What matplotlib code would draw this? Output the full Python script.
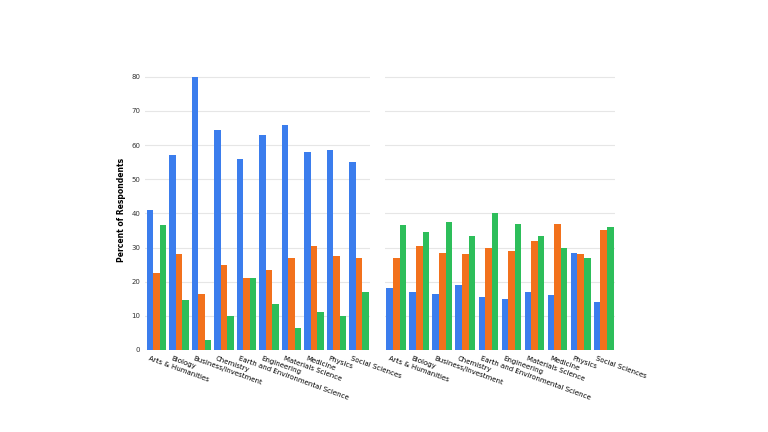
import matplotlib
matplotlib.use("Agg")
import matplotlib.pyplot as plt
import numpy as np

categories = ["Arts & Humanities", "Biology", "Business/Investment", "Chemistry",
              "Earth and Environmental Science", "Engineering", "Materials Science",
              "Medicine", "Physics", "Social Sciences"]
left_blue = [41, 57, 80, 64.5, 56, 63, 66, 58, 58.5, 55]
left_orange = [22.5, 28, 16.5, 25, 21, 23.5, 27, 30.5, 27.5, 27]
left_green = [36.5, 14.5, 3, 10, 21, 13.5, 6.5, 11, 10, 17]
right_blue = [18, 17, 16.5, 19, 15.5, 15, 17, 16, 28.5, 14]
right_orange = [27, 30.5, 28.5, 28, 30, 29, 32, 37, 28, 35]
right_green = [36.5, 34.5, 37.5, 33.5, 40, 37, 33.5, 30, 27, 36]
colors = ["#3B7DED", "#F2711C", "#2DBE5A"]

fig = plt.figure(figsize=(7.68, 4.32), dpi=100)
ax1 = fig.add_axes([0.189, 0.19, 0.293, 0.648])
ax2 = fig.add_axes([0.501, 0.19, 0.30, 0.648])
x = np.arange(len(categories))
w = 0.29
for ax, series in [(ax1, [left_blue, left_orange, left_green]),
                   (ax2, [right_blue, right_orange, right_green])]:
    for i, (vals, c) in enumerate(zip(series, colors)):
        ax.bar(x + (i - 1) * w, vals, w * 0.97, color=c, zorder=2)
    ax.set_ylim(0, 82)
    ax.set_xlim(-0.5, len(categories) - 0.5)
    ax.set_yticks(range(0, 81, 10))
    ax.yaxis.grid(True, color="#e6e6e6", lw=0.8, zorder=0)
    for s in ["top", "right", "left", "bottom"]:
        ax.spines[s].set_visible(False)
    ax.set_xticks(x - 0.3)
    ax.set_xticklabels(categories, rotation=-20, ha="left", va="top",
                       rotation_mode="anchor", fontsize=5)
    ax.tick_params(axis="x", length=0, pad=4)
    ax.tick_params(axis="y", labelsize=5, length=0, colors="#333333")
ax2.tick_params(axis="y", left=False, labelleft=False)
ax1.set_ylabel("Percent of Respondents", fontsize=5.5, fontweight="bold")
fig.savefig("out.png", dpi=100)
